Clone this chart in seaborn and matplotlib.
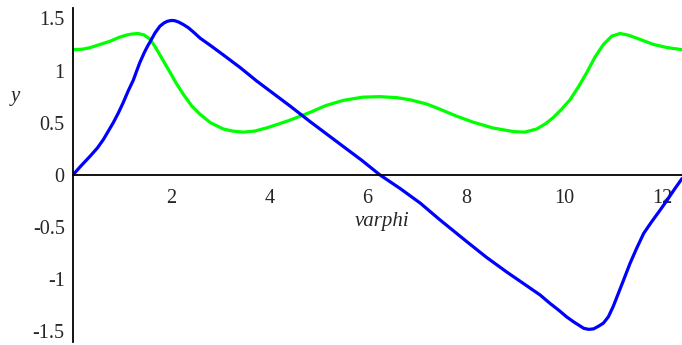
import numpy as np
import pandas as pd
import matplotlib
matplotlib.use("Agg")
import matplotlib.pyplot as plt
from matplotlib.ticker import FixedLocator, FixedFormatter, MultipleLocator
import seaborn as sns

# Curve samples: y1 (blue) and y2 (green) as functions of varphi
phi_blue = [0.0, 0.15, 0.35, 0.50, 0.62, 0.72, 0.82, 0.92, 1.02, 1.12, 1.23, 1.30,
            1.36, 1.45, 1.52, 1.57, 1.67, 1.77, 1.85, 1.92, 2.0, 2.07, 2.15, 2.25,
            2.35, 2.45, 2.59, 2.80, 3.06, 3.40, 3.74, 4.08, 4.42, 4.83, 5.17, 5.51,
            5.88, 6.25, 6.66, 7.07, 7.47, 8.02, 8.42, 8.83, 9.17, 9.51, 9.71, 9.90,
            10.05, 10.20, 10.30, 10.40, 10.50, 10.60, 10.70, 10.80, 10.90, 11.00,
            11.10, 11.20, 11.34, 11.47, 11.62, 11.78, 11.95, 12.10, 12.25, 12.4]
y_blue = [0.0, 0.08, 0.18, 0.26, 0.34, 0.42, 0.50, 0.59, 0.69, 0.80, 0.91, 1.00,
          1.075, 1.17, 1.235, 1.275, 1.36, 1.425, 1.455, 1.472, 1.48, 1.478, 1.465, 1.44,
          1.41, 1.37, 1.31, 1.24, 1.15, 1.03, 0.90, 0.78, 0.66, 0.51, 0.39, 0.27,
          0.14, 0.0, -0.13, -0.27, -0.43, -0.64, -0.79, -0.93, -1.04, -1.15, -1.23, -1.30,
          -1.36, -1.41, -1.44, -1.47, -1.48, -1.475, -1.45, -1.42, -1.36, -1.26,
          -1.14, -1.02, -0.85, -0.71, -0.56, -0.45, -0.34, -0.24, -0.135, -0.035]

phi_green = [0.0, 0.20, 0.35, 0.55, 0.75, 0.95, 1.09, 1.20, 1.33, 1.45, 1.57, 1.67,
             1.77, 1.88, 1.98, 2.10, 2.25, 2.42, 2.59, 2.80, 3.06, 3.25, 3.47, 3.70,
             3.94, 4.20, 4.42, 4.83, 5.15, 5.51, 5.90, 6.25, 6.60, 6.86, 7.20, 7.47,
             7.80, 8.15, 8.55, 8.97, 9.20, 9.44, 9.62, 9.78, 9.95, 10.12, 10.30,
             10.46, 10.63, 10.80, 10.97, 11.14, 11.30, 11.48, 11.65, 11.82, 12.10, 12.4]
y_green = [1.20, 1.205, 1.22, 1.25, 1.28, 1.32, 1.34, 1.35, 1.355, 1.34, 1.30, 1.23,
           1.15, 1.06, 0.98, 0.88, 0.77, 0.66, 0.58, 0.50, 0.44, 0.42, 0.41, 0.42,
           0.45, 0.49, 0.525, 0.60, 0.665, 0.715, 0.745, 0.75, 0.74, 0.72, 0.68, 0.63,
           0.565, 0.505, 0.45, 0.415, 0.41, 0.44, 0.49, 0.55, 0.63, 0.72, 0.85,
           0.98, 1.13, 1.25, 1.33, 1.355, 1.34, 1.31, 1.28, 1.25, 1.22, 1.20]

x_major = [2, 4, 6, 8, 10, 12]
x_labels = ["2", "4", "6", "8", "10", "12"]
y_major = [-1.5, -1.0, -0.5, 0.0, 0.5, 1.0, 1.5]
y_labels = ["-1.5", "-1", "-0.5", "0", "0.5", "1", "1.5"]

sns.set_style("white")
plt.rcParams["font.family"] = ["Liberation Serif", "DejaVu Serif"]

blue_df = pd.DataFrame({"varphi": phi_blue, "y": y_blue})
green_df = pd.DataFrame({"varphi": phi_green, "y": y_green})

fig = plt.figure(figsize=(6.82, 3.45), dpi=100)
ax = fig.add_axes([0.107, 0.009, 0.893, 0.968])

sns.lineplot(data=green_df, x="varphi", y="y", ax=ax, color="#00ff00",
             linewidth=2.3, sort=False, estimator=None)
sns.lineplot(data=blue_df, x="varphi", y="y", ax=ax, color="#0000ff",
             linewidth=2.3, sort=False, estimator=None)
for ln in ax.get_lines():
    ln.set_solid_joinstyle("round")

ax.set_xlim(0, 12.4)
ax.set_ylim(-1.6, 1.6)

# Axes crossing at the origin
ax.spines["left"].set_position(("data", 0))
ax.spines["bottom"].set_position(("data", 0))
ax.spines["top"].set_visible(False)
ax.spines["right"].set_visible(False)
for s in ("left", "bottom"):
    ax.spines[s].set_color("black")
    ax.spines[s].set_linewidth(1.3)

ax.xaxis.set_major_locator(FixedLocator(x_major))
ax.xaxis.set_major_formatter(FixedFormatter(x_labels))
ax.xaxis.set_minor_locator(MultipleLocator(1))
ax.yaxis.set_major_locator(FixedLocator(y_major))
ax.yaxis.set_major_formatter(FixedFormatter(y_labels))
ax.yaxis.set_minor_locator(MultipleLocator(0.1))

ax.tick_params(axis="x", which="both", direction="in", length=4, width=1,
               color="#666666", pad=10, labelsize=14.5)
ax.tick_params(axis="y", which="major", direction="out", length=4, width=1,
               color="#666666", pad=2, labelsize=14.5)
ax.tick_params(axis="y", which="minor", direction="out", length=3, width=1,
               color="#666666")

ax.set_xlabel("")
ax.set_ylabel("")
fig.text(0.022, 0.719, "y", fontsize=15, style="italic", ha="center", va="center")
fig.text(0.56, 0.357, "varphi", fontsize=15, style="italic", ha="center", va="center")

fig.savefig("out.png", dpi=100)
